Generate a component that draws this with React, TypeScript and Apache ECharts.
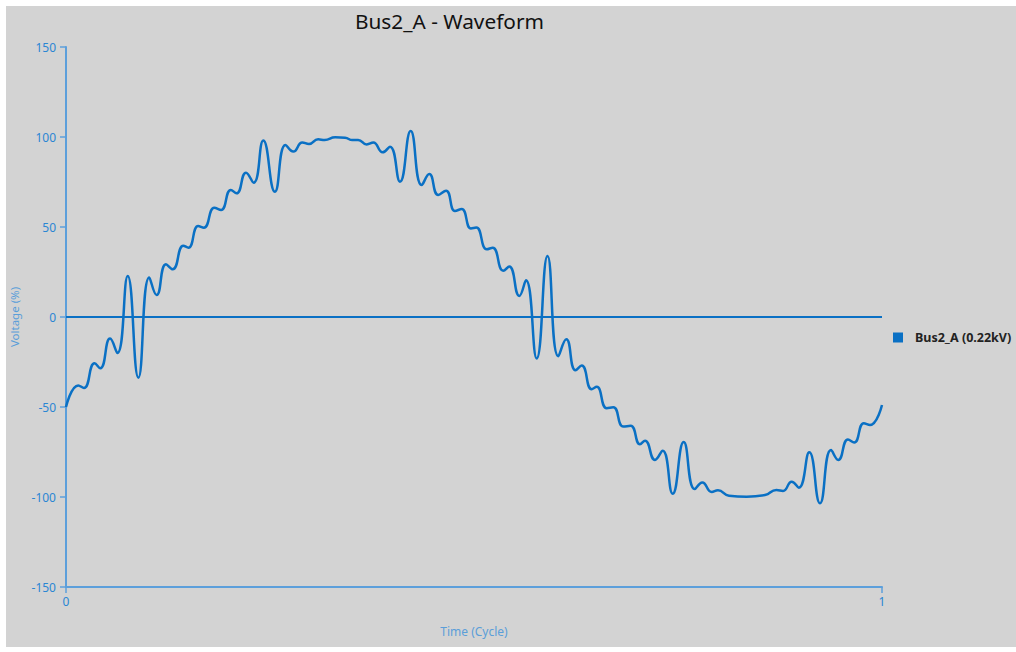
import React, { useEffect, useRef } from "react";
import * as echarts from "echarts";

const titleText = "Bus2_A - Waveform";
const seriesName = "Bus2_A (0.22kV)";
const xTicks = [0, 1];
const yTicks = [-150, -100, -50, 0, 50, 100, 150];

const timeCycle = [
  0.0, 0.015, 0.022, 0.035, 0.042, 0.054, 0.063, 0.0756, 0.0887, 0.102,
  0.111, 0.1225, 0.1307, 0.1438, 0.15, 0.162, 0.169, 0.1818, 0.19, 0.202,
  0.209, 0.2206, 0.23, 0.2418, 0.256, 0.269, 0.2786, 0.2896, 0.2978, 0.309,
  0.317, 0.33, 0.342, 0.351, 0.358, 0.3685, 0.3766, 0.388, 0.397, 0.4093,
  0.4224, 0.4359, 0.4452, 0.4562, 0.4657, 0.4767, 0.4849, 0.4963, 0.5028, 0.5156,
  0.5229, 0.5359, 0.5432, 0.5555, 0.5637, 0.5768, 0.5901, 0.6033, 0.6131, 0.6244,
  0.632, 0.6442, 0.6504, 0.6626, 0.6707, 0.683, 0.692, 0.7034, 0.7096, 0.7218,
  0.7312, 0.7435, 0.757, 0.7705, 0.7798, 0.7913, 0.799, 0.8125, 0.8342, 0.8566,
  0.8705, 0.8787, 0.8893, 0.898, 0.9109, 0.924, 0.9375, 0.9464, 0.9583, 0.9659,
  0.9777, 0.9853, 1.0,
];

const voltagePct = [
  -50, -38, -39.5, -25.7, -28.5, -12, -20, 22.8, -33.7, 22,
  12.2, 29.3, 26.5, 39.6, 38.5, 50.6, 49.6, 60.7, 59.4, 70.6,
  68.7, 80.2, 74.6, 98, 69.6, 95.6, 91.9, 97, 96.1, 98.7,
  98.3, 99.8, 99.6, 98.3, 98.4, 95.9, 96.9, 91.5, 94.6, 75.2,
  103.3, 73.3, 79.4, 67.8, 70.2, 58.9, 60, 49.2, 49.7, 37.6,
  38.5, 25.7, 28, 11.7, 20.4, -23, 33.9, -21.8, -12.4, -29.6,
  -27, -40.1, -38.8, -50.7, -50.2, -60.9, -60.4, -70.7, -68.7, -79.4,
  -74.3, -98.2, -69.5, -95.6, -91.9, -97.2, -96.3, -99.3, -99.8, -98.9,
  -96.1, -96.6, -91.5, -94.8, -75.2, -103.5, -73.9, -79.4, -68, -69.7,
  -59, -60, -48.9,
];

const FONT = "'Segoe UI', 'Noto Sans', sans-serif";
const LINE_COLOR = "#0a70c4";
const AXIS_COLOR = "#5c9fdb";
const LABEL_COLOR = "#2a86d3";

export default function App() {
  const ref = useRef<HTMLDivElement>(null);
  useEffect(() => {
    if (!ref.current) return;
    const chart = echarts.init(ref.current, undefined, { renderer: "svg" });
    const data = timeCycle.map((t, i) => [t, voltagePct[i]]);
    chart.setOption({
      animation: false,
      backgroundColor: "#d3d3d3",
      textStyle: { fontFamily: FONT },
      title: {
        text: titleText,
        left: 349,
        top: 4,
        padding: 0,
        textStyle: { fontFamily: FONT, fontSize: 20.8, fontWeight: "normal", color: "#111" },
      },
      legend: {
        left: 887,
        top: 325,
        padding: 0,
        orient: "vertical",
        itemWidth: 10,
        itemHeight: 10,
        icon: "rect",
        data: [{ name: seriesName, icon: "rect" }],
        textStyle: {
          fontFamily: FONT,
          fontSize: 12.5,
          fontWeight: "bold",
          color: "#222",
          padding: [0, 0, 0, 7],
        },
      },
      grid: {
        left: 60,
        top: 41,
        width: 816,
        height: 540,
        containLabel: false,
        outerBoundsMode: "none",
      },
      xAxis: {
        type: "value",
        min: xTicks[0],
        max: xTicks[xTicks.length - 1],
        interval: 1,
        name: "Time (Cycle)",
        nameLocation: "middle",
        nameGap: 38,
        nameTextStyle: { fontFamily: FONT, fontSize: 12, color: "#5a9ed9" },
        axisLine: { show: true, onZero: false, lineStyle: { color: AXIS_COLOR, width: 2 } },
        axisTick: { show: true, length: 6, lineStyle: { color: AXIS_COLOR, width: 1.5 } },
        axisLabel: { margin: 8, fontSize: 12, color: LABEL_COLOR, fontFamily: FONT },
        splitLine: { show: false },
      },
      yAxis: {
        type: "value",
        min: yTicks[0],
        max: yTicks[yTicks.length - 1],
        interval: 50,
        name: "Voltage (%)",
        nameLocation: "middle",
        nameGap: 44,
        nameTextStyle: { fontFamily: FONT, fontSize: 11.5, color: "#5a9ed9" },
        axisLine: { show: true, onZero: false, lineStyle: { color: AXIS_COLOR, width: 2 } },
        axisTick: { show: true, length: 6, lineStyle: { color: AXIS_COLOR, width: 1.5 } },
        axisLabel: { margin: 10, fontSize: 12, color: LABEL_COLOR, fontFamily: FONT },
        splitLine: { show: false },
      },
      series: [
        {
          name: seriesName,
          type: "line",
          data,
          smooth: 0.5,
          showSymbol: false,
          symbol: "none",
          itemStyle: { color: LINE_COLOR },
          lineStyle: { color: LINE_COLOR, width: 2.5 },
          markLine: {
            silent: true,
            symbol: "none",
            label: { show: false },
            lineStyle: { color: LINE_COLOR, width: 2, type: "solid" },
            data: [{ yAxis: 0 }],
          },
        },
      ],
    });
    return () => chart.dispose();
  }, []);
  return (
    <div
      ref={ref}
      style={{ position: "absolute", left: 6, top: 6, width: 1010, height: 641, background: "#d3d3d3" }}
    />
  );
}
